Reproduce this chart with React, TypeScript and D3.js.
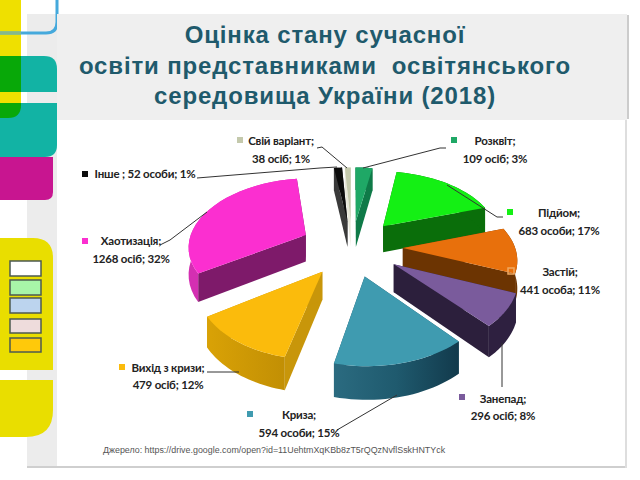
import React from "react";
import * as d3 from "d3";

// values
const categories = ["Розквіт", "Підйом", "Застій", "Занепад", "Криза", "Вихід з кризи", "Хаотизація", "Інше", "Свій варіант"];
const counts = [109, 683, 441, 296, 594, 479, 1268, 52, 38];
const firstLines = ["Розквіт;", "Підйом;", "Застій;", "Занепад;", "Криза;", "Вихід з кризи;", "Хаотизація;", "Інше ; 52 особи; 1%", "Свій варіант;"];
const secondLines = ["109 осіб; 3%", "683 особи; 17%", "441 особа; 11%", "296 осіб; 8%", "594 особи; 15%", "479 осіб; 12%", "1268 осіб; 32%", "", "38 осіб; 1%"];
const titleLines = ["Оцінка стану сучасної", "освіти представниками  освітянського", "середовища України (2018)"];
const sourceText = "Джерело: https://drive.google.com/open?id=11UehtmXqKBb8zT5rQQzNvflSskHNTYck";

const topColors = ["#1fa866", "#14f014", "#e8700c", "#7a5b9c", "#3f9bb0", "#fbbb0c", "#fb2fd0", "#0c0c0c", "#c4c9ac"];
const radialColors = ["#0f7a48", "#0a6e0a", "#6c3402", "#2c1f3c", "#1d5468", "#c8960a", "#7e1a6a", "#3a3a3a", "#e8e8da"];
const arcColors = ["#0f7a48", "#0a6e0a", "#6c3402", "#2e2040", "#1d5468", "#d9a206", "#d42fb2", "#3a3a3a", "#e8e8da"];
const explode = [0.4, 0.42, 0.43, 0.42, 0.42, 0.42, 0.44, 0.4, 0.4];
const radius = [1, 1, 0.95, 1, 1, 1, 1, 1, 1];

// where each label sits: [x, first baseline, second baseline, marker x, marker y]
const labelPos = [
  [495, 145, 163, 454, 140],
  [559, 217, 235, 510, 212],
  [560, 276, 294, 511, 271],
  [503, 403, 420, 462, 397],
  [299, 419, 437, 250, 414],
  [168, 372, 389, 122, 367],
  [131, 245, 263, 85, 241],
  [145, 178, 0, 85, 174],
  [281, 145, 163, 240, 140],
];
const leaders = [
  [[363, 168], [440, 148], [446, 148]],
  [[447, 185], [497, 217], [503, 217]],
  [],
  [[502, 343], [502, 387]],
  [[397, 395], [337, 430]],
  [[207, 372], [239, 372]],
  [[160, 245], [170, 240], [207, 212]],
  [[197, 178], [320, 168], [337, 167]],
  [[317, 148], [322, 147], [347, 168]],
];

const W = 640, H = 480;
const cx = 352, cy = 247, Rx = 118, Ry = 68, k = 0.14, depth = 27;

const project = (wx: number, wy: number, z = 0): [number, number] => {
  const p = 1 / (1 + k * wy);
  return [cx + Rx * wx * p, cy - Ry * wy * p + z * depth * p];
};

const lineGen = d3.line<[number, number]>();
const closed = (pts: [number, number][]) => lineGen(pts) + "Z";

const pie = d3.pie<number>().sort(null);

const slices = pie(counts).map((a, i) => {
  const mid = (a.startAngle + a.endAngle) / 2;
  const ex = explode[i] * Math.sin(mid);
  const ey = explode[i] * Math.cos(mid);
  const r = radius[i];
  const angles = d3.range(0, 25).map((j) => a.startAngle + ((a.endAngle - a.startAngle) * j) / 24);
  const rim = (z: number) => angles.map((t) => project(ex + r * Math.sin(t), ey + r * Math.cos(t), z));
  const apex = (z: number) => project(ex, ey, z);
  return { i, ey, mid, rim, apex };
});
const drawOrder = [...slices].sort((a, b) => b.ey + Math.cos(b.mid) - (a.ey + Math.cos(a.mid)));

const legendColors = ["#ffffff", "#a8f5a8", "#bcd4ee", "#eedcdc", "#ffc90a"];

export default function App() {
  return (
    <svg width={W} height={H} style={{ position: "absolute", left: 0, top: 0, background: "#fff" }}>
      <defs>
        <linearGradient id="tealWall" x1="0" x2="1" y1="0" y2="0">
          <stop offset="0" stopColor="#2b6b80" />
          <stop offset="0.5" stopColor="#1f5a6e" />
          <stop offset="1" stopColor="#123a4c" />
        </linearGradient>
        <linearGradient id="yellowWall" x1="0" x2="1" y1="0" y2="0">
          <stop offset="0" stopColor="#d9a206" />
          <stop offset="1" stopColor="#c28f04" />
        </linearGradient>
      </defs>

      {/* slide decoration */}
      <rect x={27} y={14} width={30} height={453} fill="#ececec" />
      <rect x={27} y={466} width={599} height={2} fill="#cfcfcf" />
      <rect x={625} y={118} width={2} height={350} fill="#dedede" />
      <path d="M0 0H21V103Q21 118 6 118H0Z" fill="#efe000" />
      <path d="M0 33H46Q57 33 57 22V0" fill="none" stroke="#45a9dc" strokeWidth={3} />
      <path d="M0 33H21" stroke="#86b88c" strokeWidth={3} />
      <path d="M0 56H44Q57 56 57 69V92H0Z" fill="#12b3a4" />
      <path d="M0 103H57V145Q57 157 45 157H0Z" fill="#12b3a4" />
      <path d="M0 56H21V92H0Z" fill="#08a808" />
      <path d="M0 103H21V105Q21 118 8 118H0Z" fill="#08a808" />
      <path d="M0 157H53V192Q53 200 45 200H0Z" fill="#c81590" />
      <path d="M0 238H33Q53 238 53 258V370H0Z" fill="#e9de00" />
      <path d="M0 380H53V410Q53 437 26 437H0Z" fill="#e9de00" />
      {legendColors.map((c, i) => (
        <rect key={c} x={10} y={[261, 280, 298, 319, 338][i]} width={31} height={[15, 15, 15, 14, 14][i]} fill={c} stroke="#4c5a50" strokeWidth={1.5} />
      ))}
      <rect x={57} y={14} width={570} height={106} fill="#efefef" />
      <rect x={627} y={15} width={2} height={104} fill="#cccccc" />

      {titleLines.map((t, i) => (
        <text key={i} x={325} y={[43, 74, 104][i]} textAnchor="middle" fontFamily="'Liberation Sans', Arial, sans-serif" fontWeight={700} fontSize={24} letterSpacing={0.85} fill="#1f5a6c" style={{ whiteSpace: "pre" }}>
          {t}
        </text>
      ))}

      {/* exploded pie */}
      {drawOrder.map((s) => {
        const top = s.rim(0);
        const bottom = s.rim(1);
        const a0 = s.apex(0);
        const a1 = s.apex(1);
        const n = top.length - 1;
        return (
          <g key={categories[s.i]}>
            <path d={closed([a0, top[0], bottom[0], a1])} fill={radialColors[s.i]} />
            <path d={closed([a0, top[n], bottom[n], a1])} fill={radialColors[s.i]} />
            <path
              d={closed([...top, ...[...bottom].reverse()])}
              fill={s.i === 4 ? "url(#tealWall)" : s.i === 5 ? "url(#yellowWall)" : arcColors[s.i]}
            />
            <path d={closed([a0, ...top])} fill={topColors[s.i]} />
          </g>
        );
      })}

      {leaders.map((pts, i) => (
        <path key={i} d={lineGen(pts as [number, number][]) ?? ""} fill="none" stroke="#333" strokeWidth={1} />
      ))}

      {/* labels */}
      {categories.map((c, i) => {
        const [x, y1, y2, mx, my] = labelPos[i];
        const hollow = i === 2;
        return (
          <g key={c} fontFamily="Lato, 'Noto Sans', sans-serif" fontWeight={700} fontSize={11.5} letterSpacing={-0.2} fill="#222" textAnchor="middle">
            <rect
              x={mx - 3}
              y={my - 3}
              width={6}
              height={6}
              fill={hollow ? "none" : topColors[i]}
              stroke={hollow ? "#f0a860" : "none"}
              strokeWidth={1.5}
            />
            <text x={x} y={y1}>{firstLines[i]}</text>
            {secondLines[i] && <text x={x} y={y2}>{secondLines[i]}</text>}
          </g>
        );
      })}

      <text x={103} y={453} fontFamily="'Liberation Sans', Arial, sans-serif" fontSize={8.9} fill="#555">
        {sourceText}
      </text>
    </svg>
  );
}
